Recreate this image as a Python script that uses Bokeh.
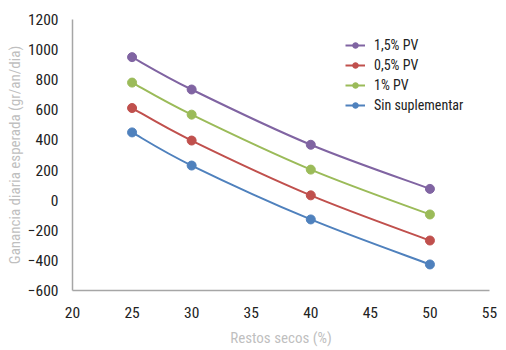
from bokeh.plotting import figure
from bokeh.models import ColumnDataSource, Legend, LegendItem, Range1d, FixedTicker
from bokeh.embed import file_html
from bokeh.resources import INLINE

x_vals = [25, 30, 40, 50]
series_names = ["1,5% PV", "0,5% PV", "1% PV", "Sin suplementar"]
pv15 = [950, 735, 368, 75]
pv05 = [612, 396, 32, -268]
pv10 = [781, 568, 203, -95]
sin_sup = [450, 230, -128, -427]
series_values = [pv15, pv05, pv10, sin_sup]
colors = ["#8064A2", "#C0504D", "#9BBB59", "#4F81BD"]
x_ticks = [20, 25, 30, 35, 40, 45, 50, 55]
y_ticks = [-600, -400, -200, 0, 200, 400, 600, 800, 1000, 1200]

FONT = "Liberation Sans Narrow, Roboto Condensed, Arial Narrow, Roboto, sans-serif"

p = figure(width=506, height=350, output_backend="svg", toolbar_location=None,
           x_range=Range1d(20, 55), y_range=Range1d(-600, 1200),
           min_border_left=72, min_border_right=17, min_border_top=19, min_border_bottom=60)
p.outline_line_color = None
p.grid.grid_line_color = None
p.background_fill_color = "white"

for ax in (p.xaxis[0], p.yaxis[0]):
    ax.axis_line_color = "#A6A6A6"
    ax.axis_line_width = 1.5
    ax.major_tick_line_color = None
    ax.minor_tick_line_color = None
    ax.major_label_text_font = FONT
    ax.major_label_text_font_size = "15.5px"
    ax.major_label_text_color = "#222222"
    ax.axis_label_text_font = FONT
    ax.axis_label_text_font_size = "15px"
    ax.axis_label_text_color = "#BFBFBF"
    ax.axis_label_text_font_style = "normal"

p.xaxis.ticker = FixedTicker(ticks=x_ticks)
p.yaxis.ticker = FixedTicker(ticks=y_ticks)
p.xaxis.axis_label = "Restos secos (%)"
p.yaxis.axis_label = "Ganancia diaria esperada (gr/an/dia)"
p.xaxis.major_label_standoff = 10
p.yaxis.major_label_standoff = 8
p.xaxis.axis_label_standoff = 8
p.yaxis.axis_label_standoff = 1


def smooth_segments(xs, ys, t=1/6):
    n = len(xs)
    x0, y0, x1, y1, cx0, cy0, cx1, cy1 = [], [], [], [], [], [], [], []
    for i in range(n - 1):
        pm = i - 1 if i > 0 else i
        pp = i + 2 if i + 2 < n else i + 1
        x0.append(xs[i]); y0.append(ys[i])
        x1.append(xs[i + 1]); y1.append(ys[i + 1])
        cx0.append(xs[i] + (xs[i + 1] - xs[pm]) * t)
        cy0.append(ys[i] + (ys[i + 1] - ys[pm]) * t)
        cx1.append(xs[i + 1] - (xs[pp] - xs[i]) * t)
        cy1.append(ys[i + 1] - (ys[pp] - ys[i]) * t)
    return dict(x0=x0, y0=y0, x1=x1, y1=y1, cx0=cx0, cy0=cy0, cx1=cx1, cy1=cy1)


items = []
for name, vals, col in zip(series_names, series_values, colors):
    seg = ColumnDataSource(smooth_segments(x_vals, vals))
    r_line = p.bezier(x0="x0", y0="y0", x1="x1", y1="y1", cx0="cx0", cy0="cy0",
                      cx1="cx1", cy1="cy1", source=seg, line_color=col, line_width=2)
    r_pts = p.scatter(x_vals, vals, size=9, fill_color=col, line_color=col)
    items.append(LegendItem(label=name, renderers=[r_line, r_pts]))

legend = Legend(items=items, location=(273, 177), border_line_color=None,
                background_fill_alpha=0, label_text_font=FONT,
                label_text_font_size="14px", label_text_color="#222222",
                glyph_width=20, glyph_height=14, spacing=4, padding=6,
                label_standoff=9, label_height=14)
p.add_layout(legend, "center")

open("out.html", "w").write(file_html(p, INLINE))
